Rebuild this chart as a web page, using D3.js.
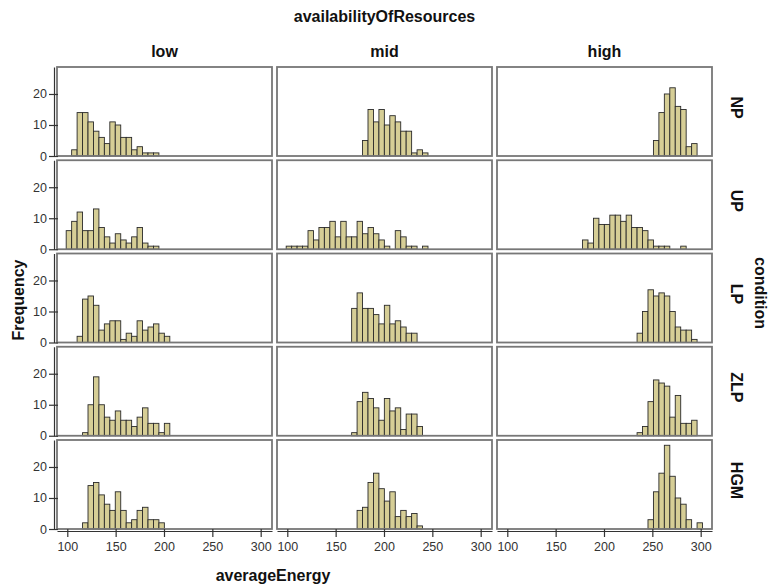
<!DOCTYPE html>
<html>
<head>
<meta charset="utf-8">
<script src="https://cdn.jsdelivr.net/npm/d3@7"></script>
<style>
  body { margin: 0; background: #fff; }
  text { font-family: Arial, "Liberation Sans", sans-serif; }
</style>
</head>
<body>
<svg id="chart" width="769" height="587"></svg>
<script>
// histogram bins (shared by every panel)
const binStart = 98.86;
const binWidth = 5.64;

const availability = ['low', 'mid', 'high'];
const conditions = ['NP', 'UP', 'LP', 'ZLP', 'HGM'];
const xTicks = [100, 150, 200, 250, 300];
const yTicks = [0, 10, 20];

// counts per bin, starting at the bin index in firstBin
const lowNP  = [2, 14, 14, 11, 8, 6, 4, 11, 10, 6, 6, 2, 3, 1, 1, 1];
const lowUP  = [6, 9, 12, 6, 6, 13, 7, 4, 2, 5, 3, 2, 4, 7, 2, 1, 1];
const lowLP  = [2, 14, 15, 12, 4, 6, 7, 7, 1, 3, 2, 7, 4, 5, 6, 3, 2];
const lowZLP = [1, 10, 19, 10, 6, 5, 8, 5, 5, 3, 6, 9, 4, 4, 1, 4];
const lowHGM = [2, 14, 15, 11, 8, 6, 12, 6, 2, 3, 6, 7, 3, 3, 2];

const midNP  = [5, 15, 11, 15, 10, 13, 11, 8, 8, 1, 2, 1];
const midUP  = [1, 1, 1, 1, 6, 3, 7, 7, 9, 4, 9, 4, 4, 9, 5, 7, 5, 3, 1, 0, 6, 4, 1, 1, 0, 1];
const midLP  = [11, 16, 11, 11, 9, 6, 12, 6, 7, 5, 3, 3];
const midZLP = [1, 11, 14, 12, 9, 5, 12, 8, 9, 2, 7, 7, 3];
const midHGM = [6, 7, 15, 18, 13, 9, 12, 4, 6, 4, 5, 1];

const highNP  = [5, 14, 20, 22, 16, 15, 3, 4];
const highUP  = [3, 2, 10, 8, 8, 11, 11, 9, 11, 7, 7, 6, 3, 1, 1, 1, 0, 0, 1];
const highLP  = [3, 10, 17, 15, 16, 15, 10, 5, 4, 4, 1];
const highZLP = [1, 3, 11, 18, 17, 16, 6, 13, 4, 4, 5];
const highHGM = [3, 12, 18, 27, 17, 10, 8, 3, 0, 2];

// [column][row]
const counts = [
  [lowNP, lowUP, lowLP, lowZLP, lowHGM],
  [midNP, midUP, midLP, midZLP, midHGM],
  [highNP, highUP, highLP, highZLP, highHGM]
];
const firstBin = [
  [1, 0, 2, 3, 3],
  [14, 0, 12, 12, 13],
  [27, 14, 24, 24, 26]
];

const svg = d3.select('#chart');

const panelW = 215, panelH = 89;
const gridLeft = 57, gridTop = 67, colStep = 220, rowStep = 93.25;

const x = d3.scaleLinear().domain([89.35, 311.7]).range([0, panelW]);
const y = d3.scaleLinear().domain([0, 28.7]).range([panelH, 0]);

const barFill = '#d6ce96';

availability.forEach(function (av, c) {
    conditions.forEach(function (cond, r) {
        const g = svg.append('g')
            .attr('transform', 'translate(' + (gridLeft + c * colStep) + ',' + (gridTop + r * rowStep) + ')');

        g.append('rect')
            .attr('width', panelW).attr('height', panelH)
            .attr('fill', '#fff');

        const bars = counts[c][r].map(function (n, i) {
            const x0 = binStart + (firstBin[c][r] + i) * binWidth;
            return { x0: x0, x1: x0 + binWidth, n: n };
        }).filter(function (d) { return d.n > 0; });

        g.selectAll('.bar')
            .data(bars)
            .enter().append('rect')
            .attr('class', 'bar')
            .attr('x', function (d) { return x(d.x0); })
            .attr('width', function (d) { return x(d.x1) - x(d.x0); })
            .attr('y', function (d) { return y(d.n); })
            .attr('height', function (d) { return panelH - y(d.n); })
            .attr('fill', barFill)
            .attr('stroke', '#2a2a2a')
            .attr('stroke-width', 0.9);

        g.append('rect')
            .attr('width', panelW).attr('height', panelH)
            .attr('fill', 'none')
            .attr('stroke', '#777')
            .attr('stroke-width', 1.8);

        // y axis on the first column only
        if (c === 0) {
            const ya = svg.append('g')
                .attr('transform', 'translate(54,' + (gridTop + r * rowStep) + ')')
                .call(d3.axisLeft(y).tickValues(yTicks).tickSize(5).tickSizeOuter(0).tickPadding(2));
            ya.selectAll('.tick line').attr('x1', 4);
        }
        // x axis on the bottom row only
        if (r === conditions.length - 1) {
            const xa = svg.append('g')
                .attr('transform', 'translate(' + (gridLeft + c * colStep) + ',531)')
                .call(d3.axisBottom(x).tickValues(xTicks).tickSize(6).tickSizeOuter(0).tickPadding(5));
            xa.selectAll('.tick line').attr('y1', -2);
        }
    });
});

svg.selectAll('.domain, .tick line').attr('stroke', '#333').attr('stroke-width', 1.2);
svg.selectAll('.tick text')
    .style('font-size', '12.5px')
    .style('font-family', 'Arial, "Liberation Sans", sans-serif')
    .attr('fill', '#333');

function bold(sel, size) {
    return sel.style('font-weight', 'bold').style('font-size', size + 'px').attr('fill', '#111');
}

bold(svg.append('text'), 16)
    .attr('x', gridLeft + (3 * colStep - 5) / 2).attr('y', 22)
    .attr('text-anchor', 'middle')
    .text('availabilityOfResources');

availability.forEach(function (av, c) {
    bold(svg.append('text'), 16)
        .attr('x', gridLeft + c * colStep + panelW / 2).attr('y', 57)
        .attr('text-anchor', 'middle')
        .text(av);
});

conditions.forEach(function (cond, r) {
    const cy = gridTop + r * rowStep + panelH / 2 - 4;
    bold(svg.append('text'), 16)
        .attr('transform', 'translate(731,' + cy + ') rotate(90)')
        .attr('text-anchor', 'middle')
        .text(cond);
});

bold(svg.append('text'), 16)
    .attr('transform', 'translate(755,293) rotate(90)')
    .attr('text-anchor', 'middle')
    .text('condition');

bold(svg.append('text'), 16)
    .attr('transform', 'translate(24,300) rotate(-90)')
    .attr('text-anchor', 'middle')
    .text('Frequency');

bold(svg.append('text'), 16)
    .attr('x', 273).attr('y', 581)
    .attr('text-anchor', 'middle')
    .text('averageEnergy');
</script>
</body>
</html>
